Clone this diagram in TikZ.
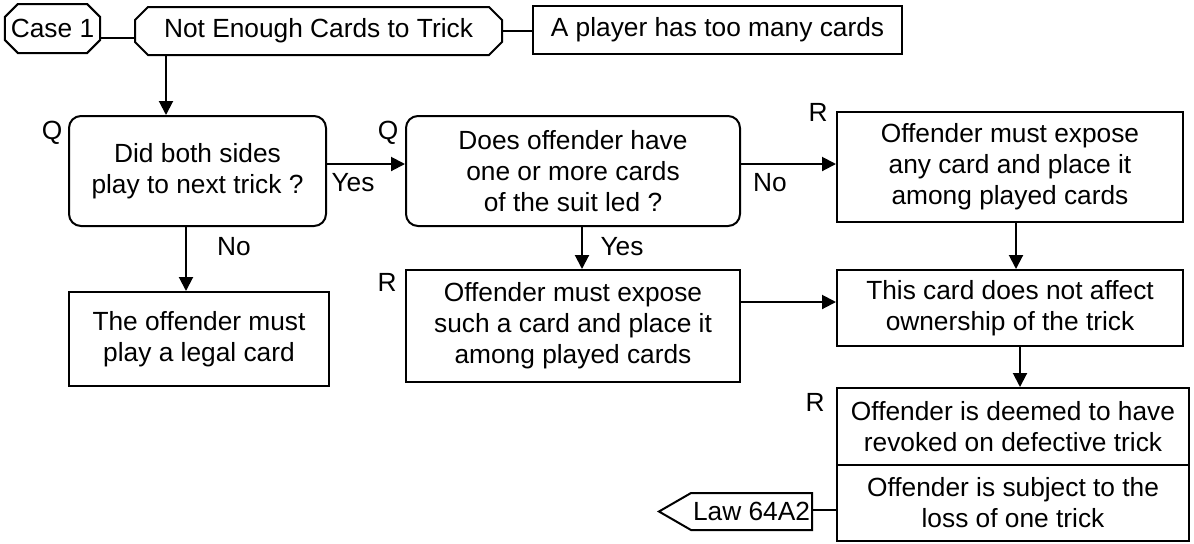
\documentclass[tikz,border=0pt]{standalone}
\usepackage{fontspec}
\setmainfont{Liberation Sans}
\usetikzlibrary{arrows.meta, positioning, shapes.misc, shapes.symbols}

\begin{document}
\begin{tikzpicture}[
  x=0.5pt, y=-0.5pt,
  every node/.style={font=\fontsize{13.15}{15.5}\selectfont},
  box/.style={draw, line width=1pt, inner sep=0pt, align=center},
  qbox/.style={box, rounded corners=6pt},
  cbox/.style={box, chamfered rectangle, chamfered rectangle xsep=3pt},
  lawbox/.style={draw, line width=1pt, inner xsep=1pt, inner ysep=0pt,
                 signal, signal to=west, signal pointer angle=60},
  arr/.style={line width=1pt, -{Triangle[length=7pt, width=7pt]}},
  link/.style={line width=1pt}
]
\useasboundingbox (0,0) rectangle (1194,543);

% top row
\node[cbox, minimum width=47.5pt, minimum height=24.5pt] (case) at (52.5,28.5) {Case 1};
\node[cbox, minimum width=183.5pt, minimum height=24pt] (notenough) at (318.5,31) {Not Enough Cards to Trick};
\node[box, minimum width=184.5pt, minimum height=24pt] (player) at (717.5,30) {A player has too many cards};

% questions
\node[qbox, minimum width=128.5pt, minimum height=55pt] (q1) at (197.5,171) {Did both sides\\play to next trick ?};
\node[qbox, minimum width=167pt, minimum height=55pt] (q2) at (573,171) {Does offender have\\one or more cards\\of the suit led ?};

% rulings
\node[box, minimum width=173pt, minimum height=55pt] (r1) at (1010,167) {Offender must expose\\any card and place it\\among played cards};
\node[box, minimum width=130pt, minimum height=47pt] (legal) at (199,339) {The offender must\\play a legal card};
\node[box, minimum width=167pt, minimum height=56pt] (r2) at (573,326) {Offender must expose\\such a card and place it\\among played cards};
\node[box, minimum width=173pt, minimum height=38pt] (thiscard) at (1010,308) {This card does not affect\\ownership of the trick};
\node[box, minimum width=176pt, minimum height=38.5pt] (deemed) at (1013,426.5) {Offender is deemed to have\\revoked on defective trick};
\node[box, minimum width=176pt, minimum height=38pt, below=-1pt of deemed] (loss) {Offender is subject to the\\loss of one trick};
\node[lawbox, minimum height=18.5pt, anchor=east] (law) at (813,511.5) {Law 64A2};

% Q / R marks and branch labels
\foreach \t/\x/\y in {Q/52/133, Q/388/133, R/387/282, R/818/112, R/815/402,
                      Yes/353/183, No/234/247, Yes/622/247, No/770/183}
  \node (mark\x) at (\x,\y) {\t};

% connectors
\draw[link] ([yshift=-4.75pt]case.east) -- ([yshift=-4.75pt]case.east -| notenough.west);
\draw[link] (notenough.east) -- (notenough.east -| player.west);
\draw[arr] ([xshift=-76.25pt]notenough.south) -- ([xshift=-76.25pt]notenough.south |- q1.north);
\draw[arr] ([yshift=3.5pt]q1.east) -- ([yshift=3.5pt]q1.east -| q2.west);
\draw[arr] ([yshift=3.5pt]q2.east) -- ([yshift=3.5pt]q2.east -| r1.west);
\draw[arr] ([xshift=-5.75pt]q1.south) -- ([xshift=-5.75pt]q1.south |- legal.north);
\draw[arr] ([xshift=4.5pt]q2.south) -- ([xshift=4.5pt]q2.south |- r2.north);
\draw[arr] ([xshift=3pt]r1.south) -- ([xshift=3pt]r1.south |- thiscard.north);
\draw[arr] ([yshift=12pt]r2.east) -- ([yshift=12pt]r2.east -| thiscard.west);
\draw[arr] ([xshift=5pt]thiscard.south) -- ([xshift=5pt]thiscard.south |- deemed.north);
\draw[link] ([yshift=-3.5pt]loss.west) -- ([yshift=-3.5pt]loss.west -| law.east);
\end{tikzpicture}
\end{document}
